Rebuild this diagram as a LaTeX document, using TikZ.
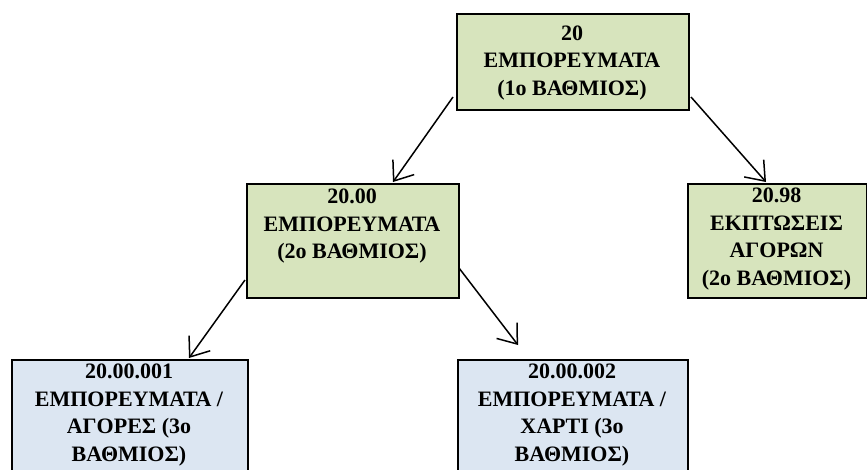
\documentclass[tikz,border=0pt]{standalone}
\usepackage{fontspec}
\setmainfont{Liberation Serif}
\usetikzlibrary{arrows.meta}
\definecolor{boxgreen}{HTML}{D7E4BD}
\definecolor{boxblue}{HTML}{DCE6F2}
\tikzset{
  box/.style={draw=black, line width=2pt, rectangle, inner sep=0pt, anchor=north west},
  greenbox/.style={box, fill=boxgreen},
  bluebox/.style={box, fill=boxblue},
  txt/.style={align=center, inner sep=0pt, font=\fontsize{22}{27.5}\selectfont\bfseries},
  conn/.style={line width=1.5pt, -{Straight Barb[length=17pt,width=26pt,line width=1.5pt]}}
}
\begin{document}
\begin{tikzpicture}[x=1pt,y=-1pt]
\useasboundingbox (0,0) rectangle (867,469);
\clip (0,0) rectangle (867,469);
% boxes
\node[greenbox, minimum width=232pt, minimum height=96pt] (T) at (456,13) {};
\node[greenbox, minimum width=212pt, minimum height=114pt] (M) at (246,183) {};
\node[greenbox, minimum width=179pt, minimum height=114pt] (R) at (687,183) {};
\node[bluebox, minimum width=236pt, minimum height=140pt] (BL) at (11,359) {};
\node[bluebox, minimum width=230pt, minimum height=140pt] (BR) at (457,359) {};
% texts
\node[txt] (Tt) at (572,63) {20\\ΕΜΠΟΡΕΥΜΑΤΑ\\(1ο ΒΑΘΜΙΟΣ)};
\node[txt] (Mt) at (352,226.5) {20.00\\ΕΜΠΟΡΕΥΜΑΤΑ\\(2ο ΒΑΘΜΙΟΣ)};
\node[txt] (Rt) at (776.5,239) {20.98\\ΕΚΠΤΩΣΕΙΣ\\ΑΓΟΡΩΝ\\(2ο ΒΑΘΜΙΟΣ)};
\node[txt] (BLt) at (129,415) {20.00.001\\ΕΜΠΟΡΕΥΜΑΤΑ /\\ΑΓΟΡΕΣ (3ο\\ΒΑΘΜΙΟΣ)};
\node[txt] (BRt) at (572,415) {20.00.002\\ΕΜΠΟΡΕΥΜΑΤΑ /\\ΧΑΡΤΙ (3ο\\ΒΑΘΜΙΟΣ)};
% connectors
\draw[conn] ([xshift=-3pt,yshift=14pt]T.south west) -- ([xshift=40pt,yshift=1pt]M.north);
\draw[conn] ([xshift=1pt,yshift=14pt]T.south east) -- ([xshift=-11.5pt,yshift=1pt]R.north);
\draw[conn] ([xshift=-1pt,yshift=19pt]M.south west) -- ([xshift=59pt,yshift=1pt]BL.north);
\draw[conn] ([xshift=-1pt,yshift=31pt]M.south east) -- ([xshift=-55pt,yshift=14pt]BR.north);
\end{tikzpicture}
\end{document}
